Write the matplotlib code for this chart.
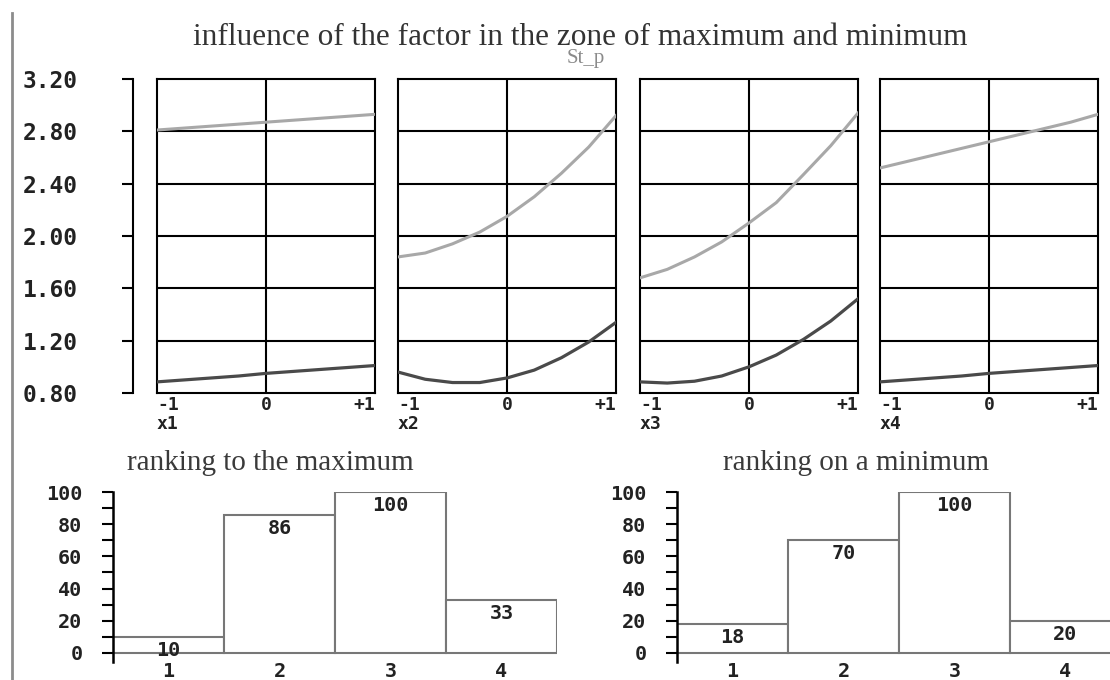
import matplotlib
matplotlib.use("Agg")
import matplotlib.pyplot as plt
from matplotlib.lines import Line2D

# curve samples along each factor, -1 .. +1
x_pts = [-1, -0.75, -0.5, -0.25, 0, 0.25, 0.5, 0.75, 1]
factor_names = ["x1", "x2", "x3", "x4"]

# upper (light) curve - zone of maximum
max_x1 = [2.81, 2.825, 2.84, 2.855, 2.87, 2.885, 2.90, 2.915, 2.93]
max_x2 = [1.84, 1.87, 1.94, 2.03, 2.15, 2.30, 2.48, 2.68, 2.92]
max_x3 = [1.68, 1.745, 1.84, 1.955, 2.10, 2.255, 2.47, 2.69, 2.94]
max_x4 = [2.52, 2.57, 2.62, 2.67, 2.72, 2.77, 2.82, 2.87, 2.93]

# lower (dark) curve - zone of minimum
min_x1 = [0.885, 0.90, 0.915, 0.93, 0.95, 0.965, 0.98, 0.995, 1.01]
min_x2 = [0.96, 0.905, 0.88, 0.88, 0.915, 0.975, 1.07, 1.19, 1.34]
min_x3 = [0.885, 0.876, 0.89, 0.93, 1.0, 1.09, 1.21, 1.35, 1.52]
min_x4 = [0.885, 0.90, 0.915, 0.93, 0.95, 0.965, 0.98, 0.995, 1.01]

y_ticks = [0.8, 1.2, 1.6, 2.0, 2.4, 2.8, 3.2]
y_tick_labels = ["0.80", "1.20", "1.60", "2.00", "2.40", "2.80", "3.20"]

rank_cats = [1, 2, 3, 4]
rank_max = [10, 86, 100, 33]
rank_min = [18, 70, 100, 20]

W, H = 1110, 680
MONO = "DejaVu Sans Mono"
SERIF = "Liberation Serif"


def box(px, py, pw, ph):
    # pixel box (left, top, width, height) -> figure fraction rect
    return [px / W, 1 - (py + ph) / H, pw / W, ph / H]


fig = plt.figure(figsize=(W / 100, H / 100), dpi=100)
fig.patch.set_facecolor("white")

# thin grey border line on the left
fig.add_artist(Line2D([12 / W, 12 / W], [0, 1 - 13 / H], transform=fig.transFigure,
                      color="#8c8c8c", lw=2))

fig.text(580 / W, 1 - 45 / H, "influence of the factor in the zone of maximum and minimum",
         family=SERIF, fontsize=22.5, color="#333333", ha="center", va="baseline")
fig.text(586 / W, 1 - 58 / H, "St_p", family=SERIF, fontsize=15, color="#8a8a8a",
         ha="center", va="center")

# shared y scale on the left
yax = fig.add_axes(box(133, 79, 1, 314))
yax.set_ylim(0.8, 3.2)
yax.set_yticks(y_ticks, y_tick_labels)
yax.set_xticks([])
for s in ["top", "right", "bottom"]:
    yax.spines[s].set_visible(False)
yax.spines["left"].set_linewidth(1.5)
yax.patch.set_visible(False)
yax.tick_params(axis="y", length=8, width=1.5, pad=32)
for t in yax.get_yticklabels():
    t.set_fontfamily(MONO)
    t.set_fontweight("bold")
    t.set_fontsize(16.5)
    t.set_color("#222222")

panel_left = [157, 398, 640, 880]
max_series = [max_x1, max_x2, max_x3, max_x4]
min_series = [min_x1, min_x2, min_x3, min_x4]

for left, name, hi, lo in zip(panel_left, factor_names, max_series, min_series):
    ax = fig.add_axes(box(left, 79, 218, 314))
    ax.set_xlim(-1, 1)
    ax.set_ylim(0.8, 3.2)
    for y in y_ticks[1:-1]:
        ax.axhline(y, color="black", lw=1.5, zorder=1)
    ax.axvline(0, color="black", lw=1.5, zorder=1)
    ax.plot(x_pts, hi, color="#a8a8a8", lw=2.2, zorder=3)
    ax.plot(x_pts, lo, color="#4a4a4a", lw=2.3, zorder=3)
    for s in ax.spines.values():
        s.set_linewidth(1.5)
        s.set_color("black")
    ax.set_yticks([])
    ax.set_xticks([-1, 0, 1], ["-1", "0", "+1"])
    ax.tick_params(axis="x", length=0, pad=2)
    labs = ax.get_xticklabels()
    labs[0].set_ha("left")
    labs[2].set_ha("right")
    for t in labs:
        t.set_fontfamily(MONO)
        t.set_fontweight("bold")
        t.set_fontsize(13)
        t.set_color("#222222")
    ax.set_xlabel(name, loc="left", family=MONO, fontweight="bold", fontsize=13,
                  color="#222222", labelpad=1)


def rank_chart(rect, xmax, values, title, title_x):
    ax = fig.add_axes(rect)
    ax.bar(rank_cats, values, width=1.0, facecolor="white", edgecolor="#777777", lw=1.5)
    ax.set_xlim(0.5, xmax)
    ax.set_ylim(-5.6, 100)
    for s in ["top", "right", "bottom"]:
        ax.spines[s].set_visible(False)
    ax.spines["left"].set_linewidth(1.8)
    ax.set_yticks([0, 20, 40, 60, 80, 100])
    ax.set_yticks(range(0, 101, 10), minor=True)
    ax.tick_params(axis="y", which="both", length=8, width=1.5, pad=14)
    ax.set_xticks(rank_cats, [str(c) for c in rank_cats])
    ax.tick_params(axis="x", length=0, pad=0)
    for t in ax.get_yticklabels() + ax.get_xticklabels():
        t.set_fontfamily(MONO)
        t.set_fontweight("bold")
        t.set_fontsize(14.5)
        t.set_color("#222222")
    for c, v in zip(rank_cats, values):
        ax.annotate(str(v), (c, v), xytext=(0, -3), textcoords="offset points",
                    ha="center", va="top", family=MONO, fontweight="bold",
                    fontsize=14.5, color="#222222")
    fig.text(title_x / W, 1 - 463 / H, title, family=SERIF, fontsize=21,
             color="#3a3a3a", ha="center", va="center")
    return ax


rank_chart(box(113, 492, 444, 170), 4.5, rank_max, "ranking to the maximum", 270)
rank_chart(box(677, 492, 433, 170), 0.5 + 433 / 111, rank_min, "ranking on a minimum", 856)

fig.savefig("out.png", dpi=100, facecolor="white")
